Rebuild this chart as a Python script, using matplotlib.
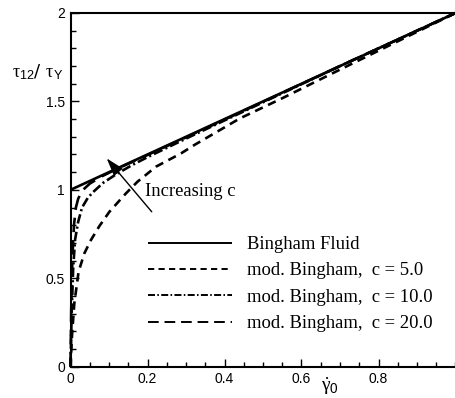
import matplotlib
matplotlib.use("Agg")
import matplotlib.pyplot as plt
from matplotlib.ticker import MultipleLocator

# ---- data ----
bingham_x = [0.0, 1.0]
bingham_y = [1.0, 2.0]

c5_x = [0.0, 0.004, 0.01, 0.021, 0.036, 0.053, 0.075, 0.101, 0.144, 0.174, 0.222, 0.287, 0.322, 0.44, 0.55, 0.70, 0.85, 1.0]
c5_y = [0.0, 0.18, 0.36, 0.537, 0.641, 0.716, 0.795, 0.876, 0.98, 1.046, 1.131, 1.206, 1.254, 1.404, 1.518, 1.68, 1.84, 2.0]

c10_x = [0.0, 0.003, 0.007, 0.012, 0.02, 0.03, 0.045, 0.06, 0.085, 0.12, 0.16, 0.2, 0.3, 0.5, 0.7, 1.0]
c10_y = [0.0, 0.30, 0.56, 0.72, 0.82, 0.90, 0.955, 0.99, 1.04, 1.09, 1.14, 1.185, 1.29, 1.495, 1.70, 2.0]

c20_x = [0.0, 0.002, 0.005, 0.009, 0.014, 0.02, 0.03, 0.05, 0.08, 0.12, 0.2, 0.4, 0.7, 1.0]
c20_y = [0.0, 0.35, 0.62, 0.80, 0.90, 0.95, 0.995, 1.035, 1.075, 1.118, 1.197, 1.397, 1.70, 2.0]

labels = ["Bingham Fluid",
          "mod. Bingham,  c = 5.0",
          "mod. Bingham,  c = 10.0",
          "mod. Bingham,  c = 20.0"]
annot_text = "Increasing c"
xticks = [0, 0.2, 0.4, 0.6, 0.8]
xticklabels = ["0", "0.2", "0.4", "0.6", "0.8"]
yticks = [0, 0.5, 1, 1.5, 2]
yticklabels = ["0", "0.5", "1", "1.5", "2"]

plt.rcParams["mathtext.fontset"] = "custom"
plt.rcParams["mathtext.rm"] = "Liberation Serif"
plt.rcParams["mathtext.it"] = "Liberation Serif:italic"
plt.rcParams["mathtext.sf"] = "Liberation Sans"

# ---- figure ----
W, H = 456, 398
fig = plt.figure(figsize=(W / 100, H / 100), dpi=100)
ax = fig.add_axes([70.5 / W, (H - 366.7) / H, 385 / W, (366.7 - 13) / H])

lw = 1.9
ax.plot(bingham_x, bingham_y, color="black", lw=lw, solid_capstyle="butt", clip_on=False, label=labels[0])
ax.plot(c5_x, c5_y, color="black", lw=lw, dashes=(3.2, 2.2), clip_on=False, label=labels[1])
ax.plot(c10_x, c10_y, color="black", lw=lw, dashes=(3.6, 1.2, 0.8, 1.2), clip_on=False, label=labels[2])
ax.plot(c20_x, c20_y, color="black", lw=lw, dashes=(5.5, 3.0), clip_on=False, label=labels[3])

ax.set_xlim(0, 1)
ax.set_ylim(0, 2)
ax.set_xticks(xticks)
ax.set_xticklabels(xticklabels)
ax.set_yticks(yticks)
ax.set_yticklabels(yticklabels)
ax.xaxis.set_minor_locator(MultipleLocator(0.05))
ax.yaxis.set_minor_locator(MultipleLocator(0.1))

for side in ["left", "bottom", "top"]:
    ax.spines[side].set_linewidth(1.5)
ax.spines["right"].set_visible(False)

ax.tick_params(which="both", direction="in", top=False, right=False, width=1.0)
ax.tick_params(which="major", length=6)
ax.tick_params(which="minor", length=3.5)
ax.tick_params(axis="both", labelsize=10, pad=4)
for t in ax.get_xticklabels() + ax.get_yticklabels():
    t.set_family("Liberation Sans")

# legend
leg = ax.legend(loc="upper left", bbox_to_anchor=(148 / W, (H - 236) / H),
                bbox_transform=fig.transFigure, frameon=False,
                prop={"family": "Liberation Serif", "size": 13.4},
                handlelength=4.5, handletextpad=0.8, labelspacing=0.5,
                borderpad=0, borderaxespad=0)
for line in leg.get_lines():
    line.set_linewidth(1.4)

# annotation with arrow
ax.annotate("", xy=(0.094, 1.178), xytext=(0.211, 0.876),
            arrowprops=dict(arrowstyle="-|>,head_length=1.1,head_width=0.35",
                            color="black", lw=1.0, shrinkA=0, shrinkB=0))
ax.text(0.194, 0.99, annot_text, fontsize=13.4, family="Liberation Serif",
        ha="left", va="center")

# axis titles
fig.text(12 / W, (H - 72) / H,
         r"$\mathrm{\tau}_{\mathsf{12}}$/ $\mathrm{\tau}_{\mathsf{Y}}$",
         fontsize=13, ha="left", va="center")
fig.text(330 / W, (H - 386) / H, r"$\dot{\mathrm{\gamma}}_{\mathsf{0}}$",
         fontsize=14, ha="center", va="center")

fig.savefig("out.png", dpi=100)
